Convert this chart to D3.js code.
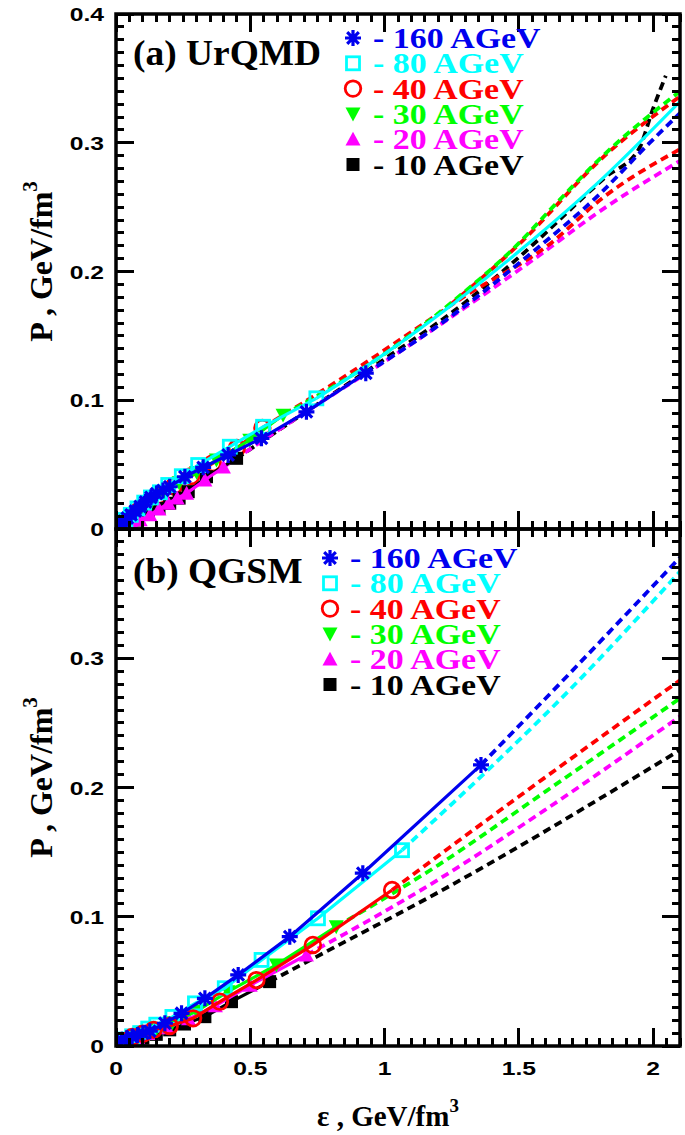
<!DOCTYPE html>
<html><head><meta charset="utf-8">
<script src="https://cdn.jsdelivr.net/npm/d3@7"></script>
<style>body{margin:0;background:#fff}</style>
</head><body><svg id="c" width="685" height="1135"></svg>
<script>
// ---------- data ----------
const energies = ["160", "80", "40", "30", "20", "10"];
const seriesColors = ["#0000ee", "#00ffff", "#ff0000", "#00ff00", "#ff00ff", "#000000"];
const seriesSymbols = ["star", "square", "circle", "triDown", "triUp", "squareFilled"];
const legendLabels = ["- 160 AGeV", "- 80 AGeV", "- 40 AGeV", "- 30 AGeV", "- 20 AGeV", "- 10 AGeV"];

const xMajorTicks = [0, 0.5, 1, 1.5, 2];
const xTickLabels = ["0", "0.5", "1", "1.5", "2"];
const yMajorTicks = [0, 0.1, 0.2, 0.3, 0.4];
const yTickLabelsTop = ["0", "0.1", "0.2", "0.3", "0.4"];
const yTickLabelsBottom = ["0", "0.1", "0.2", "0.3", ""];

// (a) UrQMD : markers (solid) and dashed extensions
const urqmd160 = [[0.005,0.001],[0.012,0.0025],[0.02,0.004],[0.03,0.006],[0.042,0.0085],[0.056,0.011],[0.072,0.014],[0.09,0.0175],[0.11,0.021],[0.13,0.0245],[0.151,0.0275],[0.175,0.030],[0.2,0.0328],[0.2565,0.0406],[0.3245,0.0479],[0.4175,0.0575],[0.5416,0.0704],[0.709,0.091],[0.93,0.121]];
const urqmd80 = [[0.008,0.0015],[0.02,0.004],[0.035,0.007],[0.055,0.011],[0.08,0.016],[0.105,0.0205],[0.13,0.0245],[0.1636,0.0285],[0.1945,0.0342],[0.245,0.041],[0.306,0.0497],[0.4238,0.0639],[0.5476,0.0794],[0.746,0.1015]];
const urqmd40 = [[0.015,0.002],[0.04,0.0065],[0.075,0.013],[0.115,0.019],[0.16,0.026],[0.215,0.033],[0.28,0.041],[0.36,0.051],[0.45,0.063],[0.545,0.0785]];
const urqmd30 = [[0.01,0.0015],[0.03,0.005],[0.06,0.010],[0.095,0.016],[0.135,0.022],[0.18,0.029],[0.235,0.036],[0.3,0.044],[0.374,0.0536],[0.498,0.0691],[0.622,0.0885]];
const urqmd20 = [[0.03,0.002],[0.06,0.004],[0.09,0.007],[0.126,0.011],[0.16,0.0155],[0.195,0.020],[0.228,0.024],[0.263,0.0277],[0.331,0.038],[0.4,0.048]];
const urqmd10 = [[0.04,0.003],[0.08,0.007],[0.12,0.0115],[0.16,0.016],[0.2,0.020],[0.235,0.024],[0.269,0.029],[0.337,0.0406],[0.449,0.0549]];

const urqmd160Ext = [[0.93,0.121],[1.2,0.158],[1.539,0.213],[1.8,0.26],[1.985,0.2995],[2.1,0.323]];
const urqmd80Cont = [[0.746,0.1015],[1.0,0.136],[1.25,0.174],[1.514,0.218],[1.8,0.27],[2.1,0.332]];
const urqmd40Ext = [[0.545,0.0785],[0.87,0.121],[1.1,0.153],[1.3,0.181],[1.613,0.221],[1.811,0.257],[2.1,0.295]];
const urqmd40ExtB = [[1.25,0.175],[1.5,0.221],[1.82,0.290],[2.1,0.336]];
const urqmd30Ext = [[0.622,0.0885],[1.0,0.136],[1.25,0.176],[1.5,0.222],[1.626,0.250],[1.824,0.292],[2.1,0.340]];
const urqmd20Ext = [[0.4,0.048],[0.7,0.09],[1.0,0.13],[1.3,0.172],[1.539,0.207],[1.824,0.250],[2.1,0.286]];
const urqmd10Ext = [[0.449,0.0549],[0.7,0.09],[1.0,0.132],[1.3,0.176],[1.5,0.211],[1.824,0.2735],[1.948,0.2955],[1.997,0.325],[2.047,0.352]];

// (b) QGSM
const qgsm160 = [[0.005,0.003],[0.02,0.0045],[0.04,0.006],[0.06,0.0072],[0.08,0.0085],[0.1,0.0098],[0.126,0.0115],[0.182,0.0176],[0.244,0.0253],[0.331,0.0369],[0.455,0.055],[0.647,0.0846],[0.919,0.1337],[1.359,0.2175]];
const qgsm80 = [[0.005,0.003],[0.03,0.005],[0.06,0.0075],[0.09,0.010],[0.12,0.0135],[0.15,0.0165],[0.21,0.0225],[0.294,0.033],[0.405,0.0447],[0.542,0.0666],[0.752,0.0988],[1.065,0.1515]];
const qgsm40 = [[0.02,0.004],[0.06,0.007],[0.1,0.0095],[0.14,0.0125],[0.2,0.0155],[0.287,0.0214],[0.387,0.0343],[0.523,0.051],[0.733,0.0782],[1.028,0.1207]];
const qgsm30 = [[0.02,0.004],[0.06,0.0065],[0.1,0.009],[0.15,0.013],[0.21,0.018],[0.3,0.027],[0.417,0.042],[0.597,0.0627],[0.82,0.0923]];
const qgsm20 = [[0.03,0.004],[0.08,0.0065],[0.13,0.0095],[0.19,0.014],[0.27,0.021],[0.37,0.031],[0.5,0.047],[0.709,0.0704]];
const qgsm10 = [[0.05,0.003],[0.1,0.006],[0.15,0.009],[0.2,0.0125],[0.255,0.017],[0.331,0.0227],[0.43,0.0343],[0.572,0.0498]];

const qgsm160Ext = [[1.359,0.2175],[1.725,0.296],[2.1,0.378]];
const qgsm80Ext = [[1.065,0.1515],[1.737,0.2858],[2.1,0.367]];
const qgsm40Ext = [[1.028,0.1207],[1.5,0.193],[2.1,0.283]];
const qgsm30Ext = [[0.82,0.0923],[1.2,0.14],[1.6,0.197],[2.1,0.269]];
const qgsm20Ext = [[0.709,0.0704],[1.198,0.1285],[1.6,0.183],[2.1,0.255]];
const qgsm10Ext = [[0.572,0.0498],[0.746,0.069],[1.192,0.118],[2.1,0.229]];

// ---------- layout ----------
const svg = d3.select("#c");
const X0 = 116, X1 = 680;
const x = d3.scaleLinear().domain([0, 2.1]).range([X0, X1]);

const panels = [
  { top: 14, bottom: 529, label: "(a) UrQMD", labelY: 65, yLabels: yTickLabelsTop, xLabels: false,
    markers: [urqmd160, urqmd80, urqmd40, urqmd30, urqmd20, urqmd10],
    solidExtra: [[1, urqmd80Cont]],
    dashed: [[5, urqmd10Ext], [4, urqmd20Ext], [2, urqmd40Ext], [2, urqmd40ExtB], [3, urqmd30Ext], [0, urqmd160Ext]],
    order: [2, 5, 4, 3, 1, 0],
    legendX: 353, legendY0: 38, titleShift: -10 },
  { top: 529, bottom: 1046, label: "(b) QGSM", labelY: 583, yLabels: yTickLabelsBottom, xLabels: true,
    markers: [qgsm160, qgsm80, qgsm40, qgsm30, qgsm20, qgsm10],
    solidExtra: [],
    dashed: [[5, qgsm10Ext], [4, qgsm20Ext], [3, qgsm30Ext], [2, qgsm40Ext], [1, qgsm80Ext], [0, qgsm160Ext]],
    order: [5, 4, 3, 1, 2, 0],
    legendX: 330, legendY0: 558, titleShift: -10 }
];

const serif = "'Liberation Serif','Times New Roman',serif";
const sans = "'Liberation Sans',Arial,sans-serif";

function symbol(g, type, color, cx, cy, s) {
  const k = s || 1;
  if (type === "star") {
    const r = 8 * k, d = 5.8 * k;
    g.append("path").attr("transform", `translate(${cx},${cy})`)
      .attr("d", `M${-r},0L${r},0M0,${-r}L0,${r}M${-d},${-d}L${d},${d}M${-d},${d}L${d},${-d}`)
      .attr("stroke", color).attr("stroke-width", 3.2).attr("fill", "none");
  } else if (type === "square") {
    const h = 6.5 * k;
    g.append("rect").attr("x", cx - h).attr("y", cy - h).attr("width", 2 * h).attr("height", 2 * h)
      .attr("fill", "none").attr("stroke", color).attr("stroke-width", 2.8);
  } else if (type === "circle") {
    g.append("circle").attr("cx", cx).attr("cy", cy).attr("r", 7.8 * k)
      .attr("fill", "none").attr("stroke", color).attr("stroke-width", 2.8);
  } else if (type === "triDown") {
    const h = 7.5 * k;
    g.append("path").attr("d", `M${cx - h},${cy - h * 0.85}L${cx + h},${cy - h * 0.85}L${cx},${cy + h}Z`).attr("fill", color);
  } else if (type === "triUp") {
    const h = 7.5 * k;
    g.append("path").attr("d", `M${cx - h},${cy + h * 0.85}L${cx + h},${cy + h * 0.85}L${cx},${cy - h}Z`).attr("fill", color);
  } else if (type === "squareFilled") {
    const h = 6.5 * k;
    g.append("rect").attr("x", cx - h).attr("y", cy - h).attr("width", 2 * h).attr("height", 2 * h).attr("fill", color);
  }
}

const yMinor = d3.range(0, 0.4001, 0.01);
const xMinor = d3.range(0, 2.1001, 0.05);

panels.forEach(p => {
  const y = d3.scaleLinear().domain([0, 0.4]).range([p.bottom, p.top]);
  const g = svg.append("g");
  const line = d3.line().x(d => x(d[0])).y(d => y(d[1]));
  const smooth = d3.line().curve(d3.curveMonotoneX).x(d => x(d[0])).y(d => y(d[1]));
  const clipId = "clip" + p.top;
  svg.append("clipPath").attr("id", clipId).append("rect")
    .attr("x", X0).attr("y", p.top).attr("width", X1 - X0).attr("height", p.bottom - p.top);
  const plot = g.append("g").attr("clip-path", `url(#${clipId})`);

  p.dashed.forEach(([i, data]) => {
    plot.append("path").attr("d", smooth(data)).attr("fill", "none")
      .attr("stroke", seriesColors[i]).attr("stroke-width", 3.8).attr("stroke-dasharray", "8,5");
  });
  p.solidExtra.forEach(([i, data]) => {
    plot.append("path").attr("d", smooth(data)).attr("fill", "none")
      .attr("stroke", seriesColors[i]).attr("stroke-width", 3.2);
  });
  p.order.forEach(i => {
    const data = p.markers[i];
    plot.append("path").attr("d", line(data)).attr("fill", "none")
      .attr("stroke", seriesColors[i]).attr("stroke-width", 3.2);
    data.forEach(d => symbol(plot, seriesSymbols[i], seriesColors[i], x(d[0]), y(d[1]), 1));
  });

  // ticks (inward, all four sides) as one path
  const isMajorY = v => Math.abs(v * 10 - Math.round(v * 10)) < 1e-6;
  const isMajorX = v => Math.abs(v * 2 - Math.round(v * 2)) < 1e-6;
  let td = "";
  yMinor.forEach(v => {
    const L = isMajorY(v) ? 18 : 8, yy = y(v).toFixed(1);
    td += `M${X0},${yy}H${X0 + L}M${X1},${yy}H${X1 - L}`;
  });
  xMinor.forEach(v => {
    const L = isMajorX(v) ? 18 : 8, xx = x(v).toFixed(1);
    td += `M${xx},${p.top}V${p.top + L}M${xx},${p.bottom}V${p.bottom - L}`;
  });
  g.append("path").attr("d", td).attr("fill", "none").attr("stroke", "#000")
    .attr("stroke-width", 3).attr("shape-rendering", "crispEdges");

  // tick labels
  yMajorTicks.forEach((v, i) => {
    if (!p.yLabels[i]) return;
    g.append("text").attr("transform", `translate(104,${y(v) + 7}) scale(1.3,1)`)
      .attr("text-anchor", "end").attr("font-family", sans).attr("font-weight", "bold")
      .attr("font-size", 19).attr("fill", "#000").text(p.yLabels[i]);
  });
  if (p.xLabels) {
    xMajorTicks.forEach((v, i) => {
      g.append("text").attr("transform", `translate(${x(v)},${p.bottom + 29}) scale(1.3,1)`)
        .attr("text-anchor", "middle").attr("font-family", sans).attr("font-weight", "bold")
        .attr("font-size", 19).attr("fill", "#000").text(xTickLabels[i]);
    });
  }

  // frame
  g.append("rect").attr("x", X0).attr("y", p.top).attr("width", X1 - X0).attr("height", p.bottom - p.top)
    .attr("fill", "none").attr("stroke", "#000").attr("stroke-width", 3.5);

  // panel label
  g.append("text").attr("transform", `translate(133,${p.labelY}) scale(1.07,1)`).text(p.label)
    .attr("font-family", serif).attr("font-weight", "bold").attr("font-size", 35).attr("fill", "#000");

  // legend
  energies.forEach((e, i) => {
    const ry = p.legendY0 + i * 25.3;
    symbol(g, seriesSymbols[i], seriesColors[i], p.legendX, ry, 1);
    g.append("text").attr("transform", `translate(${p.legendX + 20},${ry + 10}) scale(1.13,1)`)
      .text(legendLabels[i])
      .attr("font-family", serif).attr("font-weight", "bold").attr("font-size", 30)
      .attr("fill", seriesColors[i]);
  });

  // y title
  const yt = g.append("text")
    .attr("transform", `translate(52,${(p.top + p.bottom) / 2 + p.titleShift}) rotate(-90)`)
    .attr("text-anchor", "middle").attr("font-family", serif).attr("font-weight", "bold")
    .attr("font-size", 32).attr("fill", "#000");
  yt.append("tspan").text("P , GeV/fm");
  yt.append("tspan").text("3").attr("font-size", 21).attr("dy", -15);
});

// x title
const xt = svg.append("text").attr("x", 388).attr("y", 1126).attr("text-anchor", "middle")
  .attr("font-family", serif).attr("font-weight", "bold").attr("font-size", 29).attr("fill", "#000");
xt.append("tspan").text("ε , GeV/fm");
xt.append("tspan").text("3").attr("font-size", 19).attr("dy", -14);
</script></body></html>
